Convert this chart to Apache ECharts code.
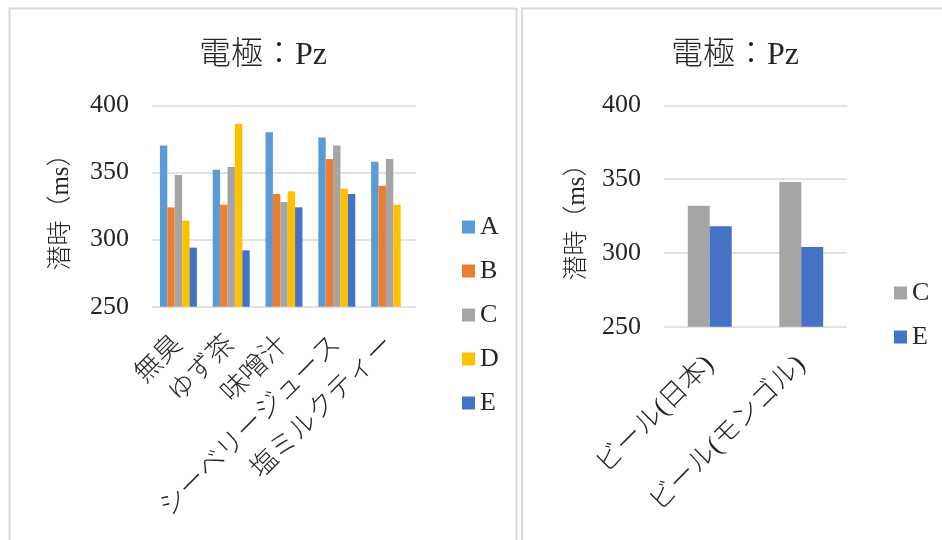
<!DOCTYPE html>
<html>
<head>
<meta charset="utf-8">
<script src="https://cdn.jsdelivr.net/npm/echarts@6/dist/echarts.min.js"></script>
<style>
  html, body { margin: 0; padding: 0; background: #fff; }
  #chart { width: 942px; height: 540px; }
</style>
</head>
<body>
<div id="chart"></div>
<script>
// Latency (ms) at electrode Pz per stimulus
const titleText = '電極：Pz';
const yName = '潜時（ms）';
const yTicks = { min: 250, max: 400, step: 50 };

// Left panel: five stimuli, conditions A-E
const stimuli = ['無臭', 'ゆず茶', '味噌汁', 'シーベリージュース', '塩ミルクティー'];
const seriesA = [370, 352, 380, 376, 358];
const seriesB = [324, 326, 334, 360, 340];
const seriesC = [348, 354, 328, 370, 360];
const seriesD = [314, 386, 336, 338, 326];
const seriesE = [294, 292, 324, 334, null];

// Right panel: beer, conditions C and E
const beers = ['ビール(日本)', 'ビール(モンゴル)'];
const beerC = [332, 348];
const beerE = [318, 304];

const colors = { A: '#5b9bd5', B: '#ed7d31', C: '#a5a5a5', D: '#ffc000', E: '#4472c4' };

const FONT = '"Liberation Serif", "Noto Sans CJK JP", serif';
const TEXT = '#262626';
const GRID_LINE = '#d9d9d9';

function yAxis(gridIndex, nameGap) {
  return {
    type: 'value', gridIndex,
    min: yTicks.min, max: yTicks.max, interval: yTicks.step,
    name: yName, nameLocation: 'middle', nameRotate: 90, nameGap,
    nameTextStyle: { fontFamily: FONT, fontSize: 25, color: TEXT, fontWeight: 300 },
    axisLine: { show: false }, axisTick: { show: false },
    axisLabel: { margin: 23, fontFamily: FONT, fontSize: 26, color: TEXT },
    splitLine: { lineStyle: { color: GRID_LINE, width: 1.5 } }
  };
}

function xAxis(gridIndex, data) {
  return {
    type: 'category', gridIndex, data,
    axisLine: { show: false }, axisTick: { show: false },
    axisLabel: { rotate: 45, margin: 34, interval: 0, fontFamily: FONT, fontSize: 27, color: TEXT, fontWeight: 300 }
  };
}

function bar(name, data, axisIndex, color, gap) {
  return {
    name, type: 'bar', data,
    xAxisIndex: axisIndex, yAxisIndex: axisIndex,
    barGap: '0%', barCategoryGap: gap,
    itemStyle: { color }, silent: true
  };
}

const legendText = { fontFamily: FONT, fontSize: 26, color: TEXT, lineHeight: 24 };

const option = {
  animation: false,
  backgroundColor: '#ffffff',
  graphic: [
    { type: 'rect', shape: { x: 9.5, y: 8.5, width: 507, height: 560 },
      style: { fill: 'none', stroke: '#d9d9d9', lineWidth: 2 } },
    { type: 'rect', shape: { x: 522, y: 8.5, width: 440, height: 560 },
      style: { fill: 'none', stroke: '#d9d9d9', lineWidth: 2 } }
  ],
  title: [
    { text: titleText, left: 258, top: 35, textAlign: 'center',
      textStyle: { fontFamily: FONT, fontSize: 32, fontWeight: 300, color: TEXT } },
    { text: titleText, left: 730, top: 35, textAlign: 'center',
      textStyle: { fontFamily: FONT, fontSize: 32, fontWeight: 300, color: TEXT } }
  ],
  legend: [
    { data: ['A', 'B', 'C', 'D', 'E'], orient: 'vertical', left: 457, top: 209,
      itemWidth: 13, itemHeight: 13, itemGap: 18, icon: 'rect', textStyle: legendText },
    { data: ['C ', 'E '], orient: 'vertical', left: 889, top: 275,
      itemWidth: 13, itemHeight: 13, itemGap: 18, icon: 'rect', textStyle: legendText,
      formatter: n => n.trim() }
  ],
  grid: [
    { left: 152, top: 105.3, width: 264, height: 201.4 },
    { left: 664, top: 105.3, width: 183, height: 221.4 }
  ],
  xAxis: [xAxis(0, stimuli), xAxis(1, beers)],
  yAxis: [yAxis(0, 78), yAxis(1, 74)],
  series: [
    bar('A', seriesA, 0, colors.A, '30%'),
    bar('B', seriesB, 0, colors.B, '30%'),
    bar('C', seriesC, 0, colors.C, '30%'),
    bar('D', seriesD, 0, colors.D, '30%'),
    bar('E', seriesE, 0, colors.E, '30%'),
    bar('C ', beerC, 1, colors.C, '52%'),
    bar('E ', beerE, 1, colors.E, '52%')
  ]
};

echarts.init(document.getElementById('chart'), null, { renderer: 'canvas' }).setOption(option);
</script>
</body>
</html>
